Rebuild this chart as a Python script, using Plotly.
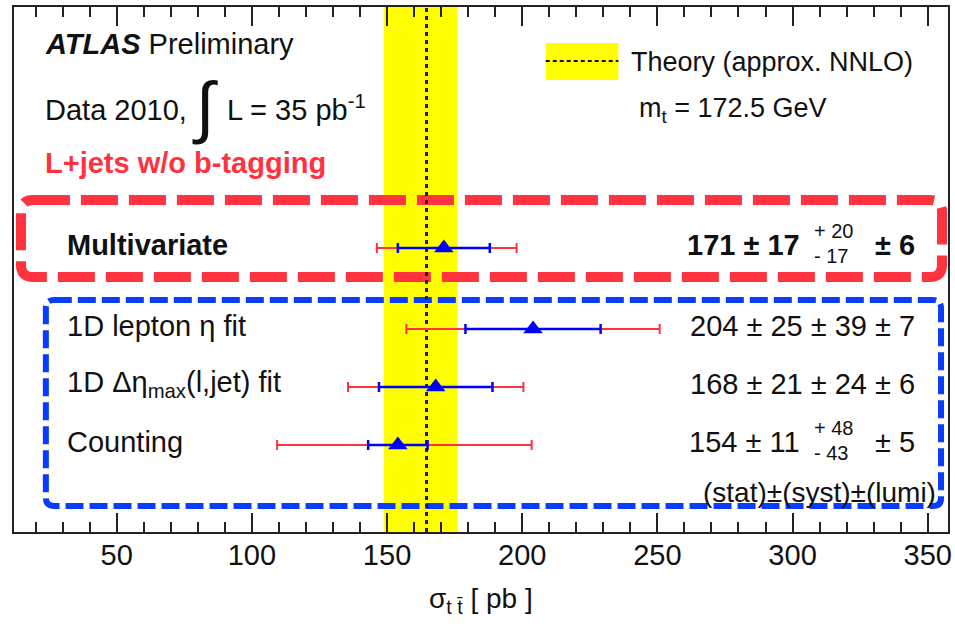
import math
import plotly.graph_objects as go

# ---------------- data ----------------
methods = ["Multivariate", "1D lepton η fit", "1D Δη<sub>max</sub>(l,jet) fit", "Counting"]
xsec = [171, 204, 168, 154]
stat = [17, 25, 21, 11]
syst_up = [20, 39, 24, 48]
syst_down = [17, 39, 24, 43]
lumi = [6, 7, 6, 5]
theory = 164.6
theory_up = 11.5
theory_down = 15.8
tick_vals = [50, 100, 150, 200, 250, 300, 350]

tot_up = [math.sqrt(s**2 + u**2 + l**2) for s, u, l in zip(stat, syst_up, lumi)]
tot_dn = [math.sqrt(s**2 + d**2 + l**2) for s, d, l in zip(stat, syst_down, lumi)]

# ---------------- layout helpers ----------------
XMIN, XMAX = 12, 357.5
L, R, T, B = 14, 952, 7, 532
W, H = 955, 624


def X(px):
    return XMIN + (px - L) * (XMAX - XMIN) / (R - L)


row_y = [248, 329, 387, 445]
RED = "#ff3340"
BLUE = "#0000ff"
BOXBLUE = "#0a3cff"
FONT = "Liberation Sans, Arial, sans-serif"
FS = 29

fig = go.Figure()

fig.add_trace(go.Scatter(
    x=xsec, y=row_y, mode="markers",
    marker=dict(size=1, color="rgba(0,0,0,0)"),
    error_x=dict(type="data", symmetric=False, array=tot_up, arrayminus=tot_dn,
                 color=RED, thickness=2, width=5),
    hoverinfo="skip", showlegend=False))
fig.add_trace(go.Scatter(
    x=xsec, y=row_y, mode="markers",
    marker=dict(symbol="triangle-up", size=17, color=BLUE),
    error_x=dict(type="data", array=stat, color=BLUE, thickness=2.5, width=5),
    showlegend=False))


def rrect(x0, y0, x1, y1, r):
    return (f"M {X(x0 + r)},{y0} L {X(x1 - r)},{y0} Q {X(x1)},{y0} {X(x1)},{y0 + r} "
            f"L {X(x1)},{y1 - r} Q {X(x1)},{y1} {X(x1 - r)},{y1} "
            f"L {X(x0 + r)},{y1} Q {X(x0)},{y1} {X(x0)},{y1 - r} "
            f"L {X(x0)},{y0 + r} Q {X(x0)},{y0} {X(x0 + r)},{y0} Z")


shapes = [
    dict(type="rect", xref="x", yref="y", x0=theory - theory_down, x1=theory + theory_up,
         y0=B, y1=T, fillcolor="#ffff00", line=dict(width=0), layer="below"),
    dict(type="path", xref="x", yref="y", path=rrect(21, 200, 946, 277, 12),
         line=dict(color=RED, width=10, dash="37px,11px"), layer="below"),
    dict(type="path", xref="x", yref="y", path=rrect(46, 300, 945, 506, 8),
         line=dict(color=BOXBLUE, width=6, dash="18px,6px"), layer="below"),
    dict(type="line", xref="x", yref="y", x0=theory, x1=theory, y0=B, y1=T,
         line=dict(color="#222222", width=3, dash="4px,4px"), layer="below"),
    # legend
    dict(type="rect", xref="x", yref="y", x0=X(548), x1=X(621), y0=43, y1=80,
         fillcolor="#ffff00", line=dict(width=0), layer="below"),
    dict(type="line", xref="x", yref="y", x0=X(548), x1=X(621), y0=61, y1=61,
         line=dict(color="#111111", width=2, dash="4px,3px"), layer="below"),
]

ann = []


def text(px, py, s, size=FS, color="#111111", xanchor="left", yanchor="middle"):
    ann.append(dict(x=X(px), y=py, xref="x", yref="y", text=s, showarrow=False,
                    xanchor=xanchor, yanchor=yanchor,
                    font=dict(family=FONT, size=size, color=color)))


text(43, 44, "<b><i>ATLAS</i></b> Preliminary")
text(43, 110, "Data 2010,")
text(206, 106, "∫", size=68, xanchor="center")
text(226, 108, "L = 35 pb<sup>-1</sup>")
text(43, 163, "<b>L+jets w/o b-tagging</b>", color=RED)
text(632, 62, "Theory (approx. NNLO)", size=27)
text(640, 110, "m<sub>t</sub> = 172.5 GeV", size=27)

for i, (m, yy) in enumerate(zip(methods, row_y)):
    bold = i == 0
    lab = f"<b>{m}</b>" if bold else m
    text(65, yy - 3, lab)
    if syst_up[i] == syst_down[i]:
        s = f"{xsec[i]} ± {stat[i]} ± {syst_up[i]} ± {lumi[i]}"
        text(921, yy - 3, s, xanchor="right")
    else:
        a = f"{xsec[i]} ± {stat[i]}"
        c = f"± {lumi[i]}"
        if bold:
            a, c = f"<b>{a}</b>", f"<b>{c}</b>"
        text(805, yy - 3, a, xanchor="right")
        text(921, yy - 3, c, xanchor="right")
        text(815, yy - 17, f"+ {syst_up[i]}", size=20)
        text(815, yy + 8, f"- {syst_down[i]}", size=20)

text(942, 492, "(stat)±(syst)±(lumi)", size=28, xanchor="right")

# axis title (below the plot area, so placed in paper coordinates)
ann.append(dict(x=(483 - L) / (R - L), y=(B - 600) / (B - T), xref="paper", yref="paper",
                text="σ<sub>t t̄</sub> [ pb ]", showarrow=False,
                xanchor="center", yanchor="middle",
                font=dict(family=FONT, size=28, color="#111111")))

fig.update_layout(
    width=W, height=H,
    margin=dict(l=L, r=W - R, t=T, b=H - B, pad=0),
    paper_bgcolor="white", plot_bgcolor="white",
    shapes=shapes, annotations=ann,
    xaxis=dict(range=[XMIN, XMAX], tickmode="array", tickvals=tick_vals,
               ticks="inside", ticklen=19, tickwidth=2, tickcolor="#222",
               minor=dict(dtick=10, tick0=0, ticks="inside", ticklen=10,
                          tickwidth=1.5, tickcolor="#222", showgrid=False),
               showline=True, linewidth=2, linecolor="#222", mirror="ticks",
               showgrid=False, zeroline=False, ticklabelstandoff=-4,
               tickfont=dict(family=FONT, size=FS, color="#111")),
    yaxis=dict(range=[B, T], showticklabels=False, ticks="", showline=True,
               linewidth=2, linecolor="#222", mirror=True, showgrid=False,
               zeroline=False),
)

fig.write_html("out.html")
